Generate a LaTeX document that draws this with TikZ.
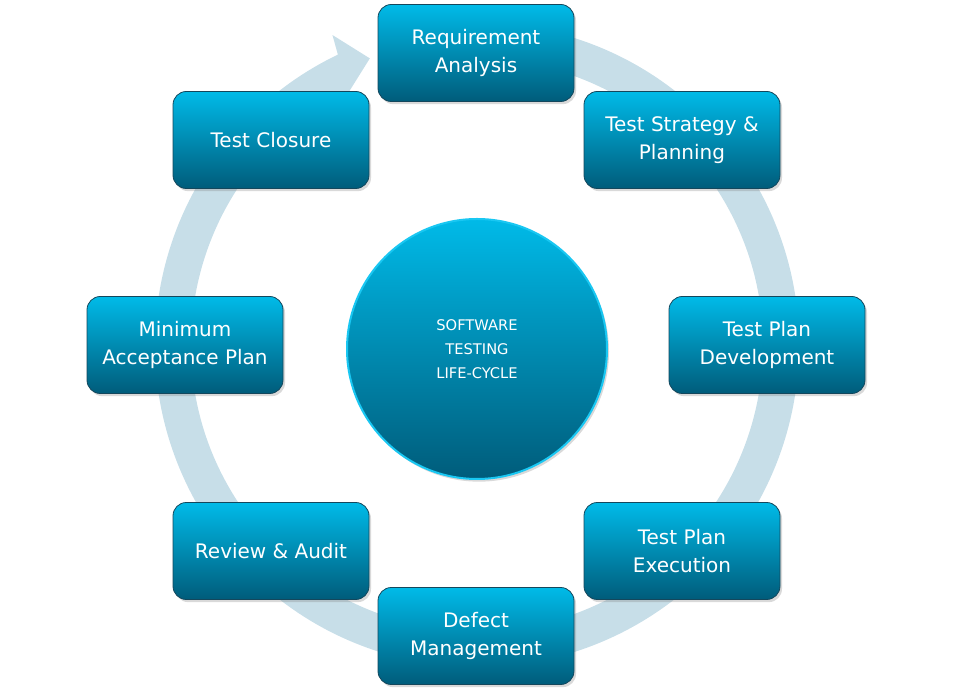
\documentclass[tikz,border=0pt]{standalone}
\usepackage{fontspec}
\setmainfont{DejaVu Sans}
\usetikzlibrary{shadows}
\definecolor{mcyan}{rgb}{0, 0.73, 0.91}
\definecolor{mteal}{rgb}{0, 0.36, 0.48}
\definecolor{medge}{rgb}{0.08, 0.28, 0.36}
\definecolor{mrim}{rgb}{0.1, 0.78, 0.95}
\definecolor{mring}{rgb}{0.78, 0.87, 0.91}
\tikzset{stage/.style = {rounded corners = 10pt, draw = medge, line width = 0.6pt,
    top color = mcyan, bottom color = mteal, minimum width = 147pt, minimum height = 72.75pt,
    text = white, align = center, font = \fontsize{15}{21}\selectfont,
    drop shadow = {opacity = 0.3, shadow xshift = 1.5pt, shadow yshift = -2pt}}}
\tikzset{hub/.style = {circle, draw = mrim, line width = 1.5pt, top color = mcyan,
    bottom color = mteal, minimum size = 195pt, text = white, align = center,
    font = \fontsize{11}{18}\selectfont,
    drop shadow = {opacity = 0.3, shadow xshift = 1.5pt, shadow yshift = -2pt}}}

\begin{document}
\begin{tikzpicture}[x=0.75pt, y=0.75pt]
      \useasboundingbox (0, 0) rectangle (954, 699);

      % ring arrow, clockwise, head at top left
      \fill [mring, shift={(477, 354)}] (78:322) arc [start angle=78, end angle=-244.4, radius=322]
        -- (115:342) -- (110.5:306) -- (123.4:267) -- (-239:286)
        arc [start angle=-239, end angle=78, radius=286] -- cycle;

      \node [hub] (life) at (477, 350) {SOFTWARE\\TESTING\\LIFE-CYCLE};

      \node [stage] (req) at (476, 646) {Requirement\\Analysis};
      \node [stage] (strat) at (682, 559) {Test Strategy \&\\Planning};
      \node [stage] (dev) at (767, 354) {Test Plan\\Development};
      \node [stage] (exec) at (682, 148) {Test Plan\\Execution};
      \node [stage] (defect) at (476, 63) {Defect\\Management};
      \node [stage] (review) at (271, 148) {Review \& Audit};
      \node [stage] (accept) at (185, 354) {Minimum\\Acceptance Plan};
      \node [stage] (closure) at (271, 559) {Test Closure};
    \end{tikzpicture}
\end{document}
